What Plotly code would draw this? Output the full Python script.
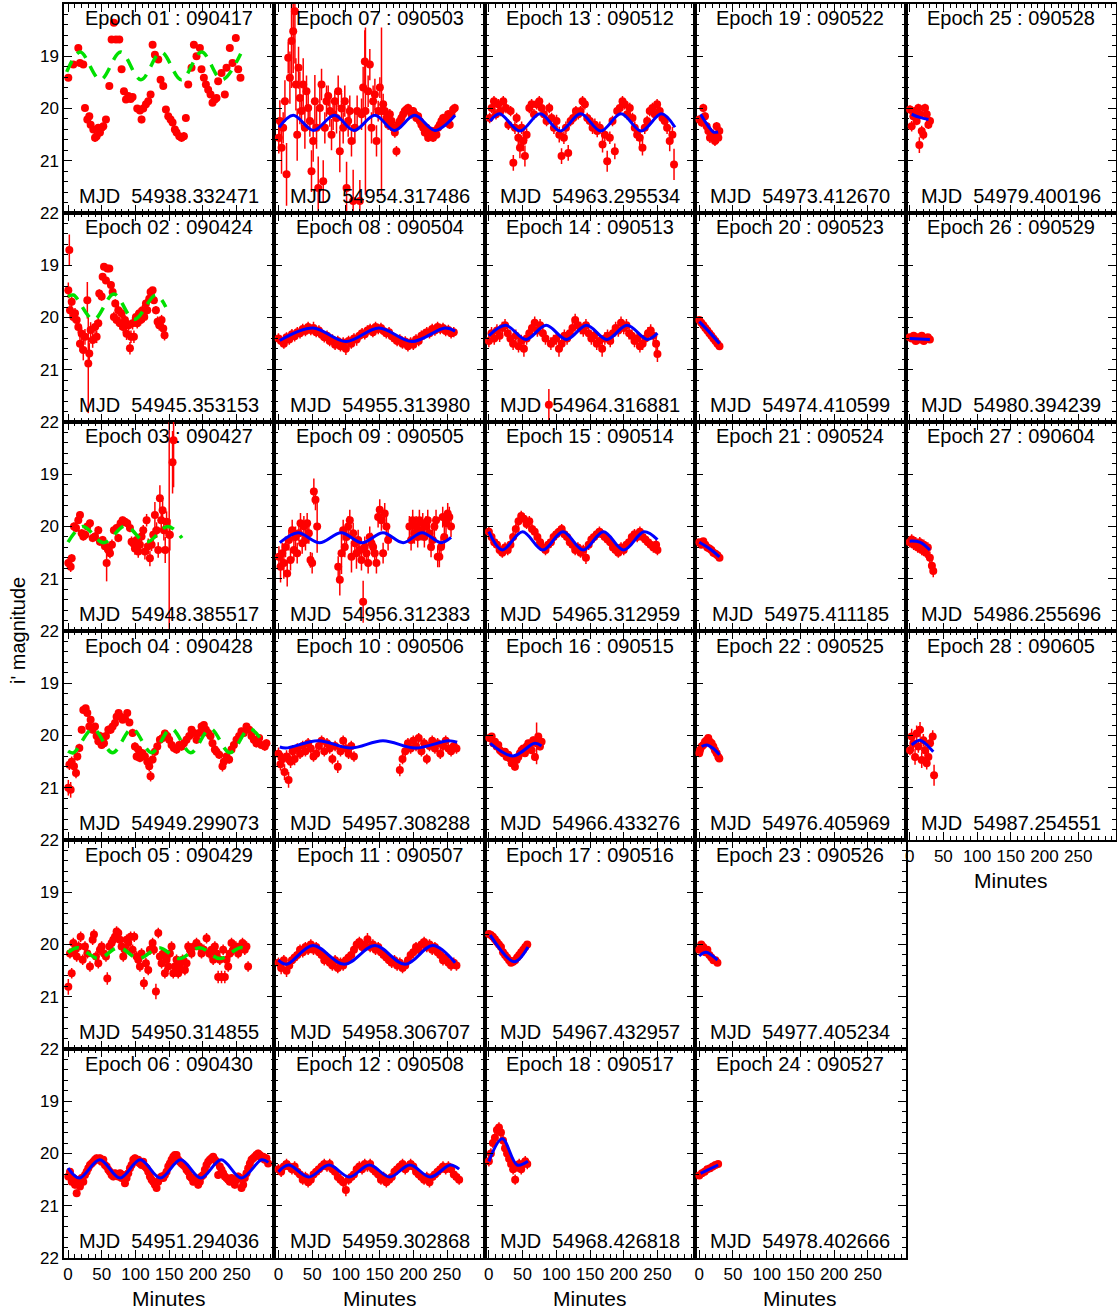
import plotly.graph_objects as go

# ---------------- metadata ----------------
EPOCH_DATES = ["090417", "090424", "090427", "090428", "090429", "090430",
               "090503", "090504", "090505", "090506", "090507", "090508",
               "090512", "090513", "090514", "090515", "090516", "090517",
               "090522", "090523", "090524", "090525", "090526", "090527",
               "090528", "090529", "090604", "090605"]
EPOCH_MJD = ["54938.332471", "54945.353153", "54948.385517", "54949.299073", "54950.314855", "54951.294036",
             "54954.317486", "54955.313980", "54956.312383", "54957.308288", "54958.306707", "54959.302868",
             "54963.295534", "54964.316881", "54965.312959", "54966.433276", "54967.432957", "54968.426818",
             "54973.412670", "54974.410599", "54975.411185", "54976.405969", "54977.405234", "54978.402666",
             "54979.400196", "54980.394239", "54986.255696", "54987.254551"]

# ---------------- data: (minutes, i' mag, error) ----------------
D01 = [(0.4,19.41,.04),(7.8,19.16,.04),(15.2,18.84,.04),(17.7,19.13,.04),(22.6,19.16,.04),(25.1,19.99,.06),(28.6,20.21,.07),(31.5,20.15,.07),(33.5,20.31,.07),(37.5,20.40,.07),(40,20.56,.08),(42.4,20.53,.08),(44.9,20.37,.07),(47.3,20.46,.07),(49.8,20.37,.07),(52.3,20.34,.07),(56.2,20.21,.06),(61.2,19.57,.04),(64.6,18.68,.03),(68,18.36,.03),(71,18.68,.03),(76,18.68,.03),(79.4,19.25,.04),(82.9,19.67,.04),(85.9,19.83,.04),(89.3,19.76,.04),(92.8,19.82,.04),(95.7,19.78,.04),(102.6,20.0,.06),(106.6,20.04,.06),(109,20.21,.07),(111.5,20.0,.06),(115.5,19.92,.05),(118.9,19.86,.05),(122.4,19.73,.05),(125.4,18.78,.03),(128.8,18.97,.03),(133.8,19.06,.04),(137.2,19.45,.04),(141.2,19.57,.04),(145.1,20.02,.06),(148.6,20.15,.06),(152,20.21,.07),(155,20.27,.07),(158.4,20.40,.07),(160.9,20.46,.07),(164.9,20.53,.08),(168.3,20.56,.08),(171.8,20.53,.08),(174.7,20.18,.06),(178.2,19.54,.04),(183.1,19.22,.04),(186.6,18.78,.03),(190.5,19.0,.04),(195.5,18.84,.04),(197.9,19.25,.04),(201.4,19.41,.04),(204.4,19.54,.04),(207.8,19.64,.04),(211.3,19.73,.04),(214.2,19.89,.05),(217.7,19.83,.05),(220.2,19.80,.05),(222.6,19.48,.04),(227.6,19.32,.04),(232.5,19.73,.05),(235,19.22,.04),(239.9,18.84,.04),(243.9,19.13,.04),(248.8,18.65,.03),(252.3,19.25,.04),(255.7,19.41,.04)]

D02 = [(0.4,19.48,.15),(1.9,18.71,.3),(2.9,19.86,.1),(5.4,19.70,.1),(7.8,19.99,.1),(10.3,19.92,.1),(12.8,20.05,.1),(15.2,20.18,.12),(17.7,20.50,.15),(20.2,20.31,.12),(22.6,20.62,.2),(25.1,20.37,.15),(28.6,19.67,.35),(30,20.88,.95),(31.5,20.69,.2),(33.5,20.24,.15),(36.5,20.43,.15),(40,20.18,.12),(42.4,20.37,.12),(44.9,20.11,.1),(46.3,19.54,.08),(49.8,19.60,.08),(51.3,19.22,.06),(53.3,19.03,.05),(56.2,19.29,.06),(58.2,19.06,.05),(61.2,19.06,.05),(63.6,19.38,.07),(66.1,19.51,.08),(68,19.99,.1),(70,19.73,.08),(72,20.05,.1),(74.5,19.86,.1),(76.9,20.11,.12),(79.4,19.92,.1),(81.9,20.18,.12),(84.4,20.05,.1),(86.8,20.31,.12),(89.8,20.15,.1),(91.8,20.59,.12),(93.3,20.37,.12),(95.7,20.11,.12),(97.7,20.37,.12),(100.7,19.99,.1),(102.6,20.11,.1),(105.6,19.92,.1),(107.6,20.05,.1),(110.5,19.86,.1),(113,19.99,.1),(115.5,19.73,.08),(117.5,19.86,.08),(120.4,19.64,.08),(122.4,19.51,.06),(125.4,19.48,.06),(127.3,19.67,.07),(130.3,19.86,.08),(132.8,20.08,.1),(135.2,20.15,.1),(138.7,20.05,.1),(141.2,20.21,.1),(143.1,20.34,.1)]

D03 = [(0.4,20.70,.1),(3.9,20.77,.1),(5.4,20.61,.08),(8.8,20.00,.08),(11.8,20.03,.08),(15.2,19.88,.07),(17.7,19.78,.07),(20.2,20.13,.08),(22.6,20.19,.08),(25.6,20.16,.08),(28.6,20.00,.07),(32.5,19.94,.07),(36.5,20.22,.08),(40,20.19,.08),(44.9,20.07,.08),(47.3,20.29,.08),(51.3,20.26,.08),(54.7,20.38,.1),(57.2,20.70,.35),(59.7,20.45,.1),(62.2,20.51,.1),(65.1,20.35,.1),(68,20.07,.08),(72,20.03,.08),(74.5,20.22,.08),(77.9,19.94,.07),(80.9,19.88,.07),(84.4,19.91,.07),(87.8,19.94,.07),(91.8,20.03,.08),(94.2,20.29,.1),(96.7,20.32,.1),(99.2,20.42,.12),(101.7,20.26,.1),(104.1,20.48,.12),(106.6,20.35,.12),(109,20.19,.1),(111.5,20.07,.1),(114,20.48,.15),(116.5,19.88,.12),(118.9,20.38,.15),(121.4,20.61,.15),(123.9,20.35,.12),(126.3,20.16,.12),(128.8,19.78,.25),(131.3,20.07,.15),(133.7,20.45,.15),(136.2,19.46,.25),(138.2,19.88,.2),(140.2,19.69,.2),(142.1,20.07,.2),(144.1,20.45,.25),(146.1,19.91,.2),(150,20.16,2.6),(151,20.16,.3),(155,18.77,.6),(156.5,18.35,.9)]

D04 = [(0.4,21.00,.15),(2,20.56,.1),(3.9,21.04,.15),(5.4,20.50,.1),(8.8,20.59,.1),(11.8,20.72,.1),(13.8,20.40,.08),(16.7,20.24,.08),(20.2,19.89,.07),(22.6,19.51,.06),(26.1,19.48,.06),(28.6,19.57,.06),(31.5,19.83,.07),(33.5,19.70,.07),(36.5,19.89,.07),(40,19.83,.07),(42.4,20.01,.08),(44.9,20.11,.08),(47.3,20.01,.08),(49.8,20.18,.08),(53.3,20.15,.08),(56.2,20.01,.08),(59.7,19.89,.08),(63.1,19.89,.08),(66.1,19.83,.07),(69.6,19.76,.07),(72,19.64,.06),(75,19.57,.06),(77.9,19.64,.06),(80.9,19.70,.06),(84.4,19.67,.06),(87.8,19.57,.06),(91,19.75,.06),(95.7,19.95,.08),(99.2,20.21,.08),(101.7,20.40,.08),(104.1,20.27,.08),(106.6,20.43,.08),(110.5,20.34,.08),(114,20.40,.08),(117.5,20.50,.08),(120.4,20.59,.1),(122.4,20.78,.1),(125.4,20.46,.08),(128.8,20.31,.08),(132.3,20.21,.08),(136.2,20.08,.08),(140.2,20.05,.08),(143.6,19.96,.07),(147.1,20.01,.07),(150,20.08,.08),(153.5,20.18,.08),(156.9,20.24,.08),(160.9,20.27,.08),(164.9,20.18,.08),(168.3,20.21,.08),(171.8,20.15,.08),(175.7,20.08,.08),(179.7,20.01,.08),(183.1,19.89,.07),(186.6,19.95,.07),(190.5,20.08,.08),(194.5,19.95,.07),(198,19.83,.07),(201.4,19.80,.07),(204.4,19.89,.07),(207.8,19.95,.08),(211.3,20.01,.08),(214.2,20.15,.08),(217.7,20.27,.08),(220.2,20.31,.08),(224.1,20.37,.08),(229,20.59,.1),(231,20.50,.08),(235,20.40,.08),(238.9,20.46,.08),(242.4,20.27,.08),(245.9,20.18,.08),(249.8,20.08,.08),(253.7,20.01,.08),(257.2,19.92,.07),(260.7,19.95,.07),(264.6,19.83,.07),(268.6,19.89,.07),(272,20.01,.08),(275.5,20.08,.08),(279.4,20.15,.08),(283.4,20.05,.08),(286.8,20.18,.08),(291.8,20.21,.08),(294.2,20.15,.08)]

D05 = [(0.4,20.81,.15),(2.9,20.17,.1),(5.4,20.55,.1),(7.8,19.97,.1),(10.3,20.10,.1),(12.8,20.23,.1),(15.7,20.04,.1),(18.7,19.85,.1),(21.7,20.29,.1),(25.1,20.04,.1),(28.6,20.17,.1),(32.5,20.42,.1),(36.5,19.91,.1),(38.4,19.81,.1),(41.4,20.23,.1),(44.9,20.36,.1),(47.3,20.10,.1),(49.8,20.04,.1),(53.3,20.17,.1),(56.2,20.23,.1),(58.2,20.65,.12),(61.2,20.04,.1),(64.6,19.97,.1),(67.1,19.91,.1),(69.6,19.85,.1),(72,19.75,.1),(74.5,19.78,.1),(76.9,19.91,.1),(79.4,20.04,.1),(81.9,20.23,.1),(84.4,20.10,.1),(86.8,19.91,.1),(89.3,19.97,.1),(92.8,19.85,.1),(95.7,20.10,.1),(98.2,19.85,.1),(101.7,20.23,.1),(104.1,20.29,.1),(106.6,20.42,.1),(109,20.17,.1),(112.5,20.74,.12),(115.5,20.36,.1),(118.9,20.49,.1),(121.4,20.10,.1),(125.4,19.97,.1),(127.3,20.10,.1),(130.3,20.90,.15),(133.8,19.78,.1),(136.2,20.23,.1),(138.7,20.36,.1),(141.2,20.17,.1),(143.6,20.55,.1),(146.1,20.29,.1),(148.6,20.42,.1),(151,20.17,.1),(153.5,20.04,.1),(156,20.55,.1),(158.4,20.42,.1),(160.9,20.29,.1),(163.4,20.55,.1),(165.8,20.42,.1),(169.8,20.29,.1),(173.3,20.49,.1),(175.7,20.36,.1),(178.2,20.04,.1),(180.7,20.10,.1),(183.1,20.17,.1),(186.6,20.04,.1),(190.5,19.97,.1),(194.5,20.04,.1),(197.9,20.17,.1),(201.4,20.10,.1),(205.4,19.88,.1),(209.3,20.17,.1),(212.8,20.10,.1),(215.2,20.29,.1),(217.7,20.04,.1),(220.2,20.17,.1),(222.6,20.62,.12),(225.1,20.29,.1),(227.6,20.62,.12),(230,20.10,.1),(232.5,20.62,.12),(235,20.29,.1),(237.5,20.42,.1),(239.9,20.17,.1),(242.4,19.97,.1),(244.9,20.10,.1),(248.8,20.04,.1),(252.3,20.17,.1),(255.7,20.04,.1),(258.7,19.97,.1),(262.1,20.10,.1),(264.6,20.04,.1),(267,20.42,.1)]

D06 = [(0.4,20.44,.07),(2.9,20.35,.07),(5.4,20.54,.07),(7.8,20.47,.07),(10.3,20.60,.07),(12.8,20.76,.07),(15.2,20.54,.07),(17.7,20.63,.07),(20.2,20.47,.07),(22.6,20.54,.07),(25.1,20.41,.07),(27.6,20.35,.07),(30,20.28,.07),(32.5,20.22,.07),(35,20.19,.07),(37.5,20.16,.07),(39.9,20.12,.07),(42.4,20.09,.07),(44.9,20.12,.07),(47.3,20.09,.07),(49.8,20.16,.07),(52.3,20.12,.07),(54.7,20.22,.07),(57.2,20.25,.07),(59.7,20.31,.07),(62.1,20.35,.07),(64.6,20.41,.07),(67.1,20.44,.07),(69.6,20.38,.07),(72,20.41,.07),(74.5,20.44,.07),(77,20.38,.07),(79.4,20.47,.07),(81.9,20.41,.07),(84.4,20.57,.07),(86.8,20.47,.07),(89.3,20.38,.07),(91.8,20.28,.07),(94.2,20.22,.07),(96.7,20.12,.07),(99.2,20.09,.07),(101.7,20.16,.07),(104.1,20.12,.07),(106.6,20.19,.07),(109,20.22,.07),(111.5,20.16,.07),(114,20.25,.07),(116.5,20.28,.07),(118.9,20.35,.07),(121.4,20.44,.07),(123.9,20.50,.07),(126.3,20.54,.07),(128.8,20.60,.07),(131.3,20.66,.07),(133.7,20.54,.07),(136.2,20.47,.07),(138.7,20.44,.07),(141.2,20.47,.07),(143.6,20.41,.07),(146.1,20.35,.07),(148.6,20.25,.07),(151,20.19,.07),(153.5,20.12,.07),(156,20.06,.07),(158.4,20.03,.07),(160.9,20.03,.07),(163.4,20.12,.07),(165.8,20.16,.07),(168.3,20.19,.07),(170.8,20.22,.07),(173.3,20.25,.07),(175.7,20.31,.07),(178.2,20.35,.07),(180.7,20.44,.07),(183.1,20.47,.07),(185.6,20.54,.07),(188.1,20.47,.07),(190.5,20.50,.07),(193,20.60,.07),(195.5,20.54,.07),(197.9,20.44,.07),(200.4,20.41,.07),(202.9,20.31,.07),(205.3,20.22,.07),(207.8,20.16,.07),(210.3,20.12,.07),(212.8,20.09,.07),(215.2,20.06,.07),(217.7,20.12,.07),(220.2,20.16,.07),(222.6,20.41,.07),(225.1,20.25,.07),(227.6,20.31,.07),(230,20.38,.07),(232.5,20.44,.07),(235,20.47,.07),(237.5,20.50,.07),(239.9,20.54,.07),(242.4,20.47,.07),(244.9,20.54,.07),(247.3,20.60,.07),(249.8,20.50,.07),(252.3,20.44,.07),(254.7,20.47,.07),(257.2,20.66,.07),(259.7,20.60,.07),(262.1,20.47,.07),(264.6,20.38,.07),(267.1,20.28,.07),(269.6,20.19,.07),(272,20.12,.07),(274.5,20.09,.07),(277,20.06,.07),(279.4,20.03,.07),(281.9,20.00,.07),(284.4,20.03,.07),(286.8,20.09,.07),(289.3,20.06,.07),(291.8,20.12,.07),(294.2,20.09,.07),(296.7,20.19,.07)]

D07 = [(0.5,20.56,.3),(2.1,20.24,.4),(4.6,20.75,.5),(7,20.37,.3),(9.6,19.86,.4),(12,21.26,.6),(14.5,19.03,.3),(17,19.41,.5),(19.4,18.71,.9),(21.9,18.52,.8),(24.4,18.14,1.0),(25.9,19.54,.5),(27.8,20.50,.5),(29.8,19.22,.4),(31.8,19.80,.5),(34.2,20.05,.3),(36.7,19.54,.5),(39.2,20.37,.4),(41.6,19.67,.3),(44.1,19.99,.3),(46.6,20.24,.3),(49,21.20,.4),(51.5,20.62,.4),(54,19.86,.5),(56.5,20.37,.4),(59,21.52,.6),(61.4,19.99,.4),(63.9,19.54,.3),(66.4,21.39,.4),(68.8,20.37,.3),(71.3,19.86,.3),(73.8,19.76,.2),(76.2,20.05,.3),(78.7,20.50,.3),(81.1,20.11,.3),(83.6,19.86,.2),(86.1,20.18,.3),(88.6,19.67,.3),(91,20.82,.4),(93.5,20.00,.3),(96,20.37,.3),(98.4,19.86,.3),(101,21.52,.5),(103.4,20.24,.3),(105.8,20.05,.3),(108.3,20.62,.3),(110.8,21.77,.6),(113.3,20.37,.3),(116.7,20.05,.3),(120.7,21.77,.4),(123.2,20.11,.3),(125.6,19.60,.4),(128.1,19.10,.6),(129,20.05,1.6),(133,19.67,.3),(135.5,19.16,.3),(138,20.37,.3),(140.4,19.86,.3),(143,19.73,.3),(145.4,20.62,.3),(147.9,20.05,.2),(150.4,19.60,.2),(152.8,20.05,1.6),(155.3,19.92,.2),(157.8,20.05,.15),(160.2,20.18,.15),(162.7,20.31,.1),(165.2,20.11,.1),(167.7,20.24,.1),(170.1,20.37,.1),(172.6,20.46,.1),(175,20.82,.1),(177.5,20.31,.08),(180,20.24,.08),(182.4,20.18,.08),(184.9,20.11,.08),(187.4,20.05,.08),(189.8,20.02,.08),(192.3,19.99,.08),(194.8,20.05,.08),(197.3,20.11,.08),(199.7,20.05,.08),(202.2,20.11,.08),(204.6,20.18,.08),(207.1,20.15,.08),(209.6,20.24,.08),(212,20.31,.08),(214.6,20.37,.08),(217,20.46,.08),(219.5,20.37,.08),(222,20.56,.08),(224.4,20.50,.08),(226.9,20.43,.08),(229.3,20.56,.08),(231.8,20.43,.08),(234.3,20.50,.08),(236.7,20.37,.08),(239.2,20.31,.08),(241.7,20.24,.08),(244.2,20.18,.08),(246.6,20.27,.08),(249.1,20.18,.08),(251.6,20.11,.08),(254,20.31,.08),(256.5,20.11,.08),(259,20.02,.08),(261.5,19.99,.08)]

D08 = [(0,20.40,.1),(4,20.45,.1),(8,20.50,.1),(12,20.38,.1),(16,20.42,.1),(20,20.32,.1),(24,20.36,.1),(28,20.28,.1),(32,20.30,.1),(36,20.22,.1),(40,20.26,.1),(44,20.18,.1),(48,20.24,.1),(52,20.20,.12),(56,20.28,.1),(60,20.25,.1),(64,20.33,.1),(68,20.38,.1),(72,20.35,.1),(76,20.45,.1),(80,20.42,.1),(84,20.52,.1),(88,20.45,.1),(92,20.55,.1),(96,20.48,.1),(100,20.60,.12),(104,20.45,.1),(108,20.50,.1),(112,20.40,.1),(116,20.42,.12),(120,20.35,.1),(124,20.30,.1),(128,20.32,.1),(132,20.25,.1),(136,20.22,.1),(140,20.28,.1),(144,20.18,.1),(148,20.22,.1),(152,20.20,.1),(156,20.26,.1),(160,20.30,.1),(164,20.28,.1),(168,20.36,.1),(172,20.40,.1),(176,20.45,.1),(180,20.42,.1),(184,20.50,.1),(188,20.46,.1),(192,20.55,.1),(196,20.48,.1),(200,20.52,.1),(204,20.42,.1),(208,20.45,.1),(212,20.35,.1),(216,20.32,.1),(220,20.28,.1),(224,20.30,.1),(228,20.22,.1),(232,20.25,.1),(236,20.18,.1),(240,20.22,.1),(244,20.20,.1),(248,20.26,.1),(252,20.24,.1),(256,20.30,.1),(260,20.28,.1)]

D09 = [(0.7,20.58,.2),(3.1,20.77,.3),(5.6,20.51,.2),(8,20.70,.3),(10.5,20.39,.2),(13,20.90,.25),(15.5,20.26,.2),(17.9,20.64,.2),(20.4,20.07,.2),(22.9,20.45,.2),(25.3,20.20,.2),(27.8,20.51,.2),(30.3,20.13,.15),(32.7,19.94,.2),(35.2,20.32,.2),(37.7,20.00,.2),(40.1,20.26,.2),(42.6,19.94,.2),(45.1,20.13,.2),(47.5,20.64,.15),(50,20.70,.2),(52.5,19.33,.25),(54.9,19.49,.2),(57.4,20.00,.5),(88.6,20.77,.2),(91,21.02,.3),(93.5,20.51,.4),(96,20.07,.2),(98.4,20.39,.2),(100.9,20.20,.2),(103.4,20.00,.2),(105.8,19.88,.2),(108.3,20.58,.3),(110.8,20.13,.2),(113.3,20.32,.2),(115.7,20.51,.3),(118.2,20.26,.2),(120.7,20.45,.2),(123.1,20.64,.2),(125.6,21.44,.4),(128,20.39,.2),(130.5,20.51,.2),(133,20.70,.2),(135.4,20.20,.2),(137.9,20.32,.2),(140.4,20.39,.2),(142.8,20.51,.2),(145.3,20.70,.2),(147.8,19.82,.2),(150.2,19.68,.2),(152.7,19.88,.2),(155.2,20.51,.2),(157.6,19.75,.2),(160.1,20.00,.2),(162.6,20.26,.2),(194.2,20.00,.2),(196.7,20.26,.2),(199.1,19.88,.2),(201.6,20.13,.2),(204.1,20.00,.2),(206.5,20.20,.2),(209,19.88,.2),(211.5,20.07,.2),(214,19.94,.2),(216.4,20.20,.2),(218.9,20.00,.2),(221.4,19.88,.2),(223.8,20.13,.2),(226.3,20.39,.2),(228.8,20.26,.2),(231.2,20.00,.2),(233.7,19.88,.2),(236.2,20.58,.2),(238.6,20.58,.2),(241.1,20.39,.2),(243.6,19.82,.2),(246,20.20,.2),(248.5,19.94,.2),(251,19.75,.2),(253.4,19.82,.2),(255.9,20.00,.2)]

D10 = [(0,20.35,.12),(3,20.55,.12),(6,20.45,.12),(9,20.70,.15),(12,20.40,.12),(15,20.85,.15),(18,20.50,.12),(21,20.30,.12),(24,20.45,.12),(28,20.25,.1),(32,20.35,.1),(36,20.20,.1),(40,20.30,.1),(44,20.15,.1),(48,20.25,.1),(52,20.40,.1),(56,20.35,.1),(60,20.20,.1),(64,20.10,.1),(68,20.30,.1),(72,20.15,.1),(76,20.25,.1),(80,20.45,.1),(84,20.20,.1),(88,20.60,.12),(92,20.30,.1),(96,20.10,.1),(100,20.25,.1),(104,20.35,.1),(108,20.20,.1),(112,20.40,.1),(180,20.66,.12),(184,20.45,.1),(188,20.30,.1),(192,20.15,.1),(196,20.25,.1),(200,20.10,.1),(204,20.20,.1),(208,20.05,.1),(212,20.30,.1),(216,20.15,.1),(220,20.45,.1),(224,20.20,.1),(228,20.10,.1),(232,20.25,.1),(236,20.15,.1),(240,20.35,.1),(244,20.20,.1),(248,20.10,.1),(252,20.25,.1),(256,20.30,.1),(260,20.20,.1),(264,20.25,.1)]

D11 = [(0,20.35,.1),(4,20.45,.12),(8,20.30,.1),(12,20.50,.12),(16,20.40,.1),(20,20.30,.1),(24,20.25,.1),(28,20.20,.1),(32,20.10,.1),(36,20.15,.1),(40,20.05,.1),(44,20.10,.1),(48,20.00,.1),(52,20.10,.1),(56,20.05,.1),(60,20.15,.1),(64,20.20,.1),(68,20.30,.1),(72,20.25,.1),(76,20.35,.1),(80,20.40,.1),(84,20.30,.1),(88,20.45,.1),(92,20.35,.1),(96,20.40,.1),(100,20.30,.1),(104,20.25,.1),(108,20.20,.1),(112,20.10,.1),(116,20.00,.1),(120,19.95,.1),(124,20.05,.1),(128,20.00,.1),(132,19.90,.12),(136,20.05,.1),(140,20.00,.1),(144,20.10,.1),(148,20.05,.1),(152,20.15,.1),(156,20.20,.1),(160,20.25,.1),(164,20.30,.1),(168,20.35,.1),(172,20.30,.1),(176,20.40,.1),(180,20.35,.1),(184,20.45,.1),(188,20.40,.1),(192,20.30,.1),(196,20.20,.1),(200,20.15,.1),(204,20.05,.1),(208,20.10,.1),(212,20.00,.1),(216,19.95,.1),(220,20.05,.1),(224,20.00,.1),(228,20.10,.1),(232,20.05,.1),(236,20.15,.1),(240,20.20,.1),(244,20.30,.1),(248,20.25,.1),(252,20.35,.1),(256,20.40,.1),(260,20.35,.1),(264,20.40,.1)]

D12 = [(0,20.30,.1),(4,20.35,.1),(8,20.25,.1),(12,20.20,.1),(16,20.25,.1),(20,20.30,.1),(24,20.25,.1),(28,20.35,.1),(32,20.40,.1),(36,20.50,.1),(40,20.45,.1),(44,20.55,.1),(48,20.50,.1),(52,20.40,.1),(56,20.35,.1),(60,20.30,.1),(64,20.25,.1),(68,20.20,.1),(72,20.25,.1),(76,20.20,.1),(80,20.30,.1),(84,20.35,.1),(88,20.45,.1),(92,20.50,.1),(96,20.55,.1),(100,20.70,.12),(104,20.50,.1),(108,20.45,.1),(112,20.40,.1),(116,20.30,.1),(120,20.25,.1),(124,20.30,.1),(128,20.20,.1),(132,20.25,.1),(136,20.20,.1),(140,20.30,.1),(144,20.35,.1),(148,20.40,.1),(152,20.50,.1),(156,20.45,.1),(160,20.55,.1),(164,20.50,.1),(168,20.45,.1),(172,20.35,.1),(176,20.30,.1),(180,20.25,.1),(184,20.20,.1),(188,20.30,.1),(192,20.25,.1),(196,20.20,.1),(200,20.25,.1),(204,20.35,.1),(208,20.40,.1),(212,20.45,.1),(216,20.50,.1),(220,20.45,.1),(224,20.55,.1),(228,20.45,.1),(232,20.40,.1),(236,20.35,.1),(240,20.30,.1),(244,20.25,.1),(248,20.30,.1),(252,20.25,.1),(256,20.30,.1),(260,20.40,.1),(264,20.45,.1),(268,20.50,.1)]

D13 = [(1.2,20.18,.1),(4.2,19.99,.1),(7.6,19.86,.1),(10.6,20.11,.1),(14,19.92,.1),(17.5,20.05,.1),(21.4,19.86,.1),(25.4,19.99,.1),(28.9,20.31,.1),(32.3,20.05,.1),(36.3,21.04,.15),(38.7,20.37,.12),(41.2,20.18,.1),(43.7,20.56,.15),(46.1,20.75,.2),(48.6,20.37,.12),(51.1,20.62,.2),(53.5,20.91,.2),(56,20.50,.12),(60,19.99,.1),(63.4,19.92,.1),(66.9,20.11,.1),(70.8,19.92,.1),(74.8,19.86,.1),(78.2,19.99,.1),(81.7,20.11,.1),(85.6,20.24,.1),(89.6,19.99,.1),(93,20.18,.1),(96.5,20.37,.12),(100.4,20.24,.12),(104.4,20.50,.15),(107.8,20.91,.15),(111.3,20.56,.12),(114.3,20.37,.12),(117.7,20.85,.15),(121.2,20.24,.1),(125.1,20.18,.1),(129.1,20.05,.1),(132.5,20.11,.1),(136,20.05,.1),(139,19.86,.1),(142.4,19.92,.1),(145.9,20.18,.1),(149.8,20.24,.1),(153.8,20.37,.12),(157.2,20.31,.12),(160.7,20.43,.12),(164.6,20.37,.12),(168.6,20.69,.15),(172,20.50,.12),(175.5,21.01,.2),(179.4,20.56,.12),(183.4,20.24,.1),(186.8,20.82,.15),(190.3,20.05,.1),(194.2,19.99,.1),(198.2,19.86,.1),(201.6,19.92,.1),(205.1,20.11,.1),(209,19.99,.1),(213,20.18,.1),(216.4,20.37,.12),(219.9,20.50,.12),(223.8,20.56,.15),(227.8,20.75,.15),(231.2,20.37,.12),(234.7,20.24,.1),(238.6,20.05,.1),(242.6,19.99,.1),(246,20.11,.1),(249.5,19.92,.1),(253.4,20.05,.1),(257.4,20.18,.1),(260.8,20.24,.1),(264.3,20.37,.12),(268.2,20.62,.2),(272.2,20.50,.15),(274.6,21.07,.3)]

D14 = [(0,20.45,.12),(4,20.30,.12),(8,20.40,.12),(12,20.25,.12),(16,20.35,.12),(20,20.20,.12),(24,20.15,.12),(28,20.30,.12),(32,20.40,.12),(36,20.50,.12),(40,20.35,.12),(44,20.55,.12),(48,20.45,.12),(52,20.60,.15),(56,20.40,.12),(60,20.30,.12),(64,20.20,.12),(68,20.10,.12),(72,20.25,.12),(76,20.15,.12),(80,20.30,.12),(84,20.40,.12),(89,21.67,.3),(92,20.50,.12),(96,20.45,.12),(100,20.40,.12),(104,20.60,.15),(108,20.50,.12),(112,20.35,.12),(116,20.40,.12),(120,20.30,.12),(124,20.20,.12),(128,20.05,.12),(132,20.15,.12),(136,20.20,.12),(140,20.25,.12),(144,20.15,.12),(148,20.30,.12),(152,20.40,.12),(156,20.35,.12),(160,20.50,.12),(164,20.45,.12),(168,20.60,.15),(172,20.40,.12),(176,20.35,.12),(180,20.45,.12),(184,20.30,.12),(188,20.20,.12),(192,20.25,.12),(196,20.10,.12),(200,20.20,.12),(204,20.15,.12),(208,20.30,.12),(212,20.35,.12),(216,20.45,.12),(220,20.40,.12),(224,20.55,.12),(228,20.50,.12),(232,20.40,.12),(236,20.30,.12),(240,20.25,.12),(244,20.35,.12),(248,20.50,.15),(250,20.70,.15)]

D15 = [(0,20.10,.1),(4,20.20,.1),(8,20.30,.1),(12,20.35,.1),(16,20.45,.1),(20,20.50,.1),(24,20.40,.1),(28,20.45,.1),(32,20.35,.1),(36,20.20,.1),(40,20.05,.1),(44,19.90,.1),(48,19.80,.1),(52,19.85,.1),(56,19.95,.1),(60,19.90,.1),(64,20.05,.1),(68,20.10,.1),(72,20.20,.1),(76,20.30,.1),(80,20.40,.1),(84,20.45,.1),(88,20.35,.1),(92,20.30,.1),(96,20.20,.1),(100,20.15,.1),(104,20.10,.1),(108,20.05,.1),(112,20.15,.1),(116,20.20,.1),(120,20.30,.1),(124,20.35,.1),(128,20.45,.1),(132,20.40,.1),(136,20.50,.1),(140,20.45,.1),(144,20.60,.12),(148,20.35,.1),(152,20.25,.1),(156,20.20,.1),(160,20.15,.1),(164,20.10,.1),(168,20.15,.1),(172,20.20,.1),(176,20.25,.1),(180,20.30,.1),(184,20.40,.1),(188,20.45,.1),(192,20.50,.1),(196,20.40,.1),(200,20.45,.1),(204,20.35,.1),(208,20.30,.1),(212,20.20,.1),(216,20.15,.1),(220,20.20,.1),(224,20.10,.1),(228,20.20,.1),(232,20.25,.1),(236,20.30,.1),(240,20.35,.1),(244,20.40,.1),(248,20.35,.1),(250,20.45,.1)]

D16 = [(0.7,20.05,.07),(4.2,20.02,.07),(6.6,20.15,.07),(9.1,20.12,.07),(11.6,20.21,.07),(14,20.18,.07),(16.5,20.28,.07),(19,20.31,.07),(21.5,20.34,.07),(23.9,20.31,.07),(26.4,20.41,.07),(28.9,20.37,.07),(31.3,20.44,.07),(33.8,20.53,.07),(36.3,20.50,.07),(38.7,20.60,.07),(41.2,20.47,.07),(43.7,20.41,.07),(46.1,20.34,.07),(48.6,20.28,.07),(51.1,20.25,.07),(53.5,20.34,.07),(56,20.21,.07),(58.5,20.15,.07),(61,20.18,.07),(63.4,20.28,.07),(65.9,20.09,.07),(68.4,20.41,.07),(70.8,20.15,.4),(73.3,20.02,.07),(75.8,20.21,.07),(78.2,20.12,.07)]

D17 = [(0,19.80,.06),(3,19.82,.06),(6,19.85,.06),(9,19.90,.06),(12,19.95,.06),(15,20.00,.06),(18,20.05,.06),(21,20.15,.06),(24,20.20,.06),(27,20.25,.06),(30,20.30,.06),(33,20.35,.06),(36,20.33,.06),(39,20.30,.06),(42,20.25,.06),(45,20.20,.06),(48,20.15,.06),(51,20.10,.06),(54,20.05,.06),(57,20.00,.06)]

D18 = [(0,20.15,.1),(3,20.00,.1),(6,19.80,.1),(9,19.70,.1),(12,19.55,.1),(15,19.50,.1),(18,19.60,.1),(21,19.75,.1),(24,19.90,.1),(27,20.00,.1),(30,20.10,.1),(33,20.20,.1),(36,20.30,.1),(39,20.50,.1),(42,20.25,.1),(45,20.20,.1),(48,20.30,.1),(51,20.20,.1),(54,20.15,.1),(57,20.20,.1)]

D19 = [(0.1,20.21,.08),(3.6,20.27,.08),(6,19.99,.08),(8.5,20.15,.08),(11,20.34,.08),(13.5,20.43,.08),(15.9,20.56,.1),(18.4,20.53,.1),(20.9,20.50,.1),(23.3,20.62,.1),(25.8,20.34,.08),(28.3,20.56,.1),(29.8,20.43,.08)]
D20 = [(0,20.05,.06),(3,20.10,.06),(6,20.15,.06),(9,20.20,.06),(12,20.25,.06),(15,20.30,.06),(18,20.35,.06),(21,20.40,.06),(24,20.45,.06),(27,20.50,.06),(30,20.55,.06)]
D21 = [(0,20.30,.06),(3,20.35,.06),(6,20.28,.06),(9,20.35,.06),(12,20.40,.06),(15,20.42,.06),(18,20.45,.06),(21,20.50,.06),(24,20.52,.06),(27,20.55,.06),(30,20.60,.06)]
D22 = [(0,20.34,.06),(1.1,20.28,.06),(3.6,20.21,.06),(6,20.18,.06),(8.5,20.12,.06),(11,20.09,.06),(13.4,20.05,.06),(15.9,20.12,.06),(18.4,20.15,.06),(20.9,20.21,.06),(23.3,20.28,.06),(25.8,20.34,.06),(28.3,20.41,.06),(29.8,20.44,.06)]
D23 = [(0,20.10,.06),(3,20.00,.06),(6,20.05,.06),(9,20.15,.06),(12,20.10,.06),(15,20.20,.06),(18,20.25,.06),(21,20.30,.06),(24,20.30,.06),(27,20.35,.06)]
D24 = [(0,20.42,.05),(4,20.38,.05),(8,20.35,.05),(12,20.30,.05),(16,20.28,.05),(20,20.25,.05),(24,20.22,.05),(28,20.20,.05)]
D25 = [(0.5,20.02,.08),(3,20.34,.1),(5.5,20.15,.08),(8,20.05,.08),(10.4,20.24,.08),(12.9,19.99,.08),(14.4,20.70,.15),(15.4,20.11,.08),(17.9,20.43,.1),(20.3,20.50,.1),(22.8,19.99,.08),(25.3,20.11,.08),(27.8,20.31,.08),(30.2,20.24,.08)]
D26 = [(0,20.38,.06),(3,20.40,.06),(6,20.35,.06),(9,20.45,.06),(12,20.38,.06),(15,20.42,.06),(18,20.35,.06),(21,20.45,.06),(24,20.40,.06),(27,20.38,.06),(30,20.42,.06)]
D27 = [(0,20.30,.1),(3,20.25,.1),(6,20.35,.1),(9,20.30,.1),(12,20.40,.1),(15,20.30,.1),(18,20.45,.1),(21,20.35,.1),(24,20.50,.1),(27,20.40,.1),(30,20.60,.12),(33,20.75,.12),(35,20.85,.12)]
D28 = [(0.5,20.28,.1),(3,20.02,.15),(5.5,20.15,.12),(8,20.41,.15),(10.4,19.96,.15),(12.9,20.21,.12),(15.4,19.89,.15),(17.9,20.47,.15),(20.3,20.09,.12),(22.8,20.28,.12),(25.3,20.53,.12),(27.8,20.41,.12),(30.2,20.15,.12),(34.2,20.02,.12),(36.2,20.76,.2)]

# ---------------- model curves: (minutes, mag) nodes ----------------
F01 = [(-2,19.30),(18,18.92),(48,19.45),(78,18.92),(108,19.45),(138,18.92),(168,19.45),(198,18.92),(228,19.45),(256,18.95)]
F02 = [(0,19.60),(8,19.57),(38,20.04),(68,19.55),(98,20.04),(130,19.57),(145,19.80)]
F03 = [(0,20.30),(22,20.00),(53,20.31),(85,19.99),(116,20.30),(148,20.00),(169,20.22)]
F04 = [(0,20.30),(8,20.33),(37,19.87),(66,20.33),(95,19.87),(124,20.33),(153,19.87),(182,20.33),(211,19.87),(240,20.33),(269,19.87),(290,20.15)]
F05 = [(0,20.15),(15,20.06),(45,20.27),(75,20.06),(105,20.27),(135,20.06),(165,20.27),(195,20.06),(225,20.27),(255,20.06),(267,20.10)]
F06 = [(0,20.28),(17,20.47),(47,20.12),(77,20.47),(107,20.12),(137,20.47),(167,20.12),(197,20.47),(227,20.12),(257,20.47),(287,20.12),(297,20.17)]
F07 = [(1,20.36),(22,20.13),(52,20.42),(83,20.13),(112,20.42),(143,20.13),(172,20.42),(202,20.13),(232,20.42),(262,20.13)]
F08 = [(2,20.44),(51,20.20),(100,20.46),(149,20.20),(198,20.46),(247,20.20),(262,20.26)]
F09 = [(2,20.31),(29,20.12),(61,20.31),(93,20.12),(124,20.31),(155,20.12),(185,20.31),(213,20.12),(241,20.31),(256,20.21)]
F10 = [(2,20.22),(11,20.24),(59,20.10),(107,20.24),(155,20.10),(203,20.24),(252,20.10),(265,20.13)]
F11 = [(0,20.30),(12,20.38),(51,20.02),(98,20.38),(143,20.02),(188,20.38),(229,20.02),(262,20.35)]
F12 = [(0,20.35),(15,20.22),(45,20.45),(75,20.22),(105,20.45),(135,20.22),(165,20.45),(195,20.22),(225,20.45),(255,20.22),(268,20.30)]
F13 = [(2,20.24),(16,20.10),(46,20.43),(76,20.10),(106,20.43),(136,20.10),(166,20.43),(196,20.10),(226,20.43),(256,20.10),(276,20.36)]
F14 = [(0,20.35),(25,20.15),(55,20.42),(85,20.15),(115,20.42),(145,20.15),(175,20.42),(205,20.15),(235,20.42),(250,20.30)]
F15 = [(0,20.10),(20,20.45),(50,20.10),(80,20.45),(110,20.10),(140,20.45),(170,20.10),(200,20.45),(230,20.10),(250,20.25)]
F16 = [(2,20.15),(36,20.39),(68,20.15),(78,20.20)]
F17 = [(2,19.82),(38,20.33),(58,20.05)]
F18 = [(0,20.15),(20,19.72),(42,20.22),(58,20.15)]
F19 = [(2,20.11),(13.5,20.34),(21,20.45),(28,20.45)]
F20 = [(0,20.08),(15,20.28),(30,20.50)]
F21 = [(0,20.30),(15,20.42),(30,20.58)]
F22 = [(3.6,20.21),(11,20.18),(21,20.25),(30,20.37)]
F23 = [(0,20.22),(10,20.15),(27,20.30)]
F24 = [(2,20.38),(28,20.22)]
F25 = [(3,20.11),(15,20.17),(28,20.21)]
F26 = [(0,20.40),(30,20.42)]
F27 = [(0,20.28),(15,20.30),(30,20.45)]
F28 = [(3,20.18),(15,20.09),(23,20.15),(35,20.31)]

DATA = [D01, D02, D03, D04, D05, D06, D07, D08, D09, D10, D11, D12, D13, D14,
        D15, D16, D17, D18, D19, D20, D21, D22, D23, D24, D25, D26, D27, D28]
FITS = [F01, F02, F03, F04, F05, F06, F07, F08, F09, F10, F11, F12, F13, F14,
        F15, F16, F17, F18, F19, F20, F21, F22, F23, F24, F25, F26, F27, F28]
GREEN_FITS = 5   # first five epochs use the dashed green model

X_RANGE = [-6, 306]
Y_RANGE = [22, 18]
X_TICKS = [0, 50, 100, 150, 200, 250]
Y_TICKS = [19, 20, 21, 22]

FONT = "Liberation Sans, Arial, Helvetica, sans-serif"
W, H = 1117, 1310
ML, MR, MT, MB = 64, 1, 4, 52
NCOL, NROW = 5, 6
plot_h = H - MT - MB

fig = go.Figure()
annotations = []
layout = {}

for i in range(len(DATA)):
    c, r = divmod(i, NROW)
    n = i + 1
    xa = "x" if n == 1 else f"x{n}"
    ya = "y" if n == 1 else f"y{n}"
    d = DATA[i]
    fig.add_trace(go.Scatter(
        x=[p[0] for p in d], y=[p[1] for p in d], mode="markers",
        marker=dict(color="#ff0000", size=8, line=dict(width=0)),
        error_y=dict(type="data", array=[p[2] for p in d], color="#ff0000",
                     thickness=1.5, width=0),
        xaxis=xa, yaxis=ya, showlegend=False, hoverinfo="skip"))
    f = FITS[i]
    green = i < GREEN_FITS
    fig.add_trace(go.Scatter(
        x=[p[0] for p in f], y=[p[1] for p in f], mode="lines",
        line=dict(color="#00e000" if green else "#0000ff", width=3.5 if green else 3,
                  shape="spline", smoothing=1.0, dash="12px,9px" if green else "solid"),
        xaxis=xa, yaxis=ya, showlegend=False, hoverinfo="skip"))

    bottom = (r == NROW - 1) or (c == NCOL - 1 and r == 3)
    left = (c == 0)
    xkey = "xaxis" if n == 1 else f"xaxis{n}"
    ykey = "yaxis" if n == 1 else f"yaxis{n}"
    layout[xkey] = dict(
        domain=[c / NCOL, (c + 1) / NCOL], anchor=ya, range=X_RANGE, automargin=False,
        showline=True, linecolor="black", linewidth=1.5, mirror="allticks",
        ticks="inside", ticklen=8, tickwidth=1, tickcolor="black",
        tickmode="array", tickvals=X_TICKS, ticktext=[str(v) for v in X_TICKS],
        showticklabels=bottom, tickfont=dict(family=FONT, size=17, color="black"),
        minor=dict(ticks="inside", ticklen=4, tickwidth=1, tickcolor="black",
                   tickmode="linear", tick0=0, dtick=10),
        showgrid=False, zeroline=False, fixedrange=True)
    layout[ykey] = dict(
        domain=[1 - (r + 1) / NROW, 1 - r / NROW], anchor=xa, range=Y_RANGE, automargin=False,
        showline=True, linecolor="black", linewidth=1.5, mirror="allticks",
        ticks="inside", ticklen=8, tickwidth=1, tickcolor="black",
        tickmode="array", tickvals=Y_TICKS, ticktext=[str(v) for v in Y_TICKS],
        showticklabels=left, tickfont=dict(family=FONT, size=17, color="black"),
        minor=dict(ticks="inside", ticklen=4, tickwidth=1, tickcolor="black",
                   tickmode="linear", tick0=18, dtick=0.2),
        showgrid=False, zeroline=False, fixedrange=True)

    annotations.append(dict(
        text=f"Epoch {n:02d} : {EPOCH_DATES[i]}", xref=f"{xa} domain", yref=f"{ya} domain",
        x=0.5, y=1 - 14.5 / 209, xanchor="center", yanchor="middle", showarrow=False,
        font=dict(family=FONT, size=20, color="black")))
    annotations.append(dict(
        text=f"MJD\u00a0 {EPOCH_MJD[i]}", xref=f"{xa} domain", yref=f"{ya} domain",
        x=0.5, y=17 / 209, xanchor="center", yanchor="middle", showarrow=False,
        font=dict(family=FONT, size=20, color="black")))
    if bottom:
        ybase = 0 if r == NROW - 1 else 1 - (r + 1) / NROW
        annotations.append(dict(
            text="Minutes", xref="paper", yref="paper",
            x=(c + 0.5) / NCOL, y=ybase - 40 / plot_h, xanchor="center", yanchor="middle",
            showarrow=False, font=dict(family=FONT, size=21, color="black")))

annotations.append(dict(
    text="i' magnitude", xref="paper", yref="paper", x=(18 - ML) / (W - ML - MR), y=0.5,
    xanchor="center", yanchor="middle", textangle=-90, showarrow=False,
    font=dict(family=FONT, size=20, color="black")))

fig.update_layout(**layout)
fig.update_layout(
    width=W, height=H, margin=dict(l=ML, r=MR, t=MT, b=MB, autoexpand=False),
    paper_bgcolor="white", plot_bgcolor="white",
    annotations=annotations, showlegend=False,
    font=dict(family=FONT, color="black"))

# remove the browser's default 8px page margin so the figure sits at the window origin
fig.write_html("out.html", config={"displayModeBar": False},
               post_script="document.body.style.margin='0px';")
